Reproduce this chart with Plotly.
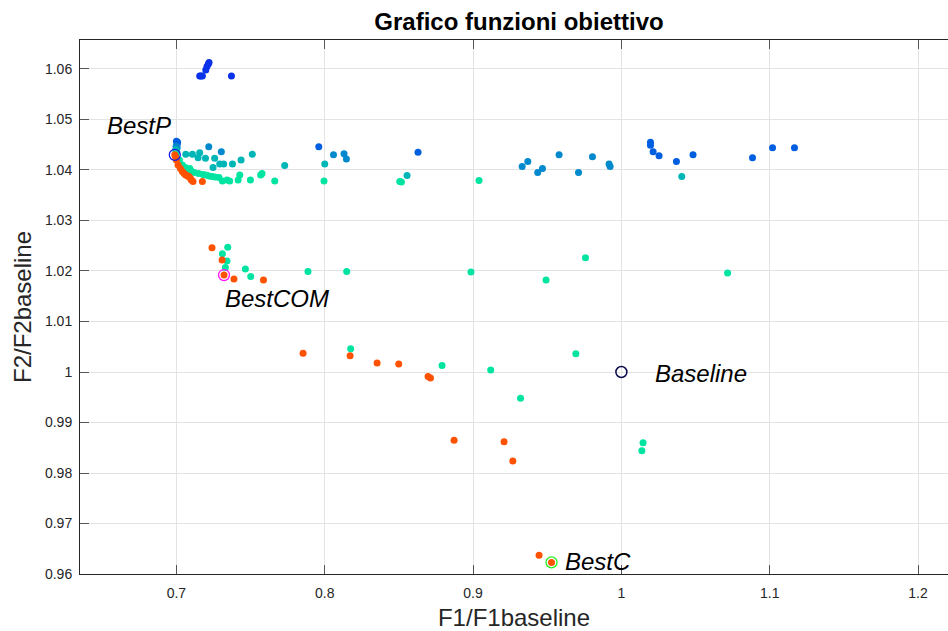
import plotly.graph_objects as go

# Objective values normalised by the baseline design, grouped by generation
gen1_f1 = [0.7220, 0.7215, 0.7206, 0.7198, 0.7157, 0.7165, 0.7175, 0.7371]
gen1_f2 = [1.0613, 1.0610, 1.0605, 1.0598, 1.0586, 1.0586, 1.0586, 1.0586]

gen2_f1 = [0.7000, 0.7008, 0.7005, 0.7960, 0.8629, 1.0196, 1.0196, 1.0214, 1.0254,
           1.0371, 1.0483, 1.0884, 1.1019, 1.1167]
gen2_f2 = [1.0457, 1.0455, 1.0451, 1.0446, 1.0435, 1.0455, 1.0449, 1.0436, 1.0428,
           1.0417, 1.0430, 1.0424, 1.0444, 1.0444]

gen3_f1 = [0.6998, 0.7005, 0.7218, 0.7303, 0.8059, 0.8130, 0.8146, 0.9331, 0.9369,
           0.9436, 0.9468, 0.9580, 0.9711, 0.9805, 0.9917, 0.9924]
gen3_f2 = [1.0447, 1.0444, 1.0446, 1.0436, 1.0430, 1.0432, 1.0422, 1.0407, 1.0417,
           1.0395, 1.0403, 1.0430, 1.0395, 1.0426, 1.0412, 1.0407]

gen4_f1 = [0.6995, 0.7002, 0.7063, 0.7108, 0.7157, 0.7146, 0.7196, 0.7258, 0.7292,
           0.7319, 0.7247, 0.7378, 0.7436, 0.7512, 0.7730, 0.8000, 0.8555, 1.0407]
gen4_f2 = [1.0440, 1.0437, 1.0431, 1.0431, 1.0434, 1.0424, 1.0423, 1.0423, 1.0412,
           1.0412, 1.0405, 1.0412, 1.0420, 1.0431, 1.0409, 1.0412, 1.0389, 1.0387]

gen5_f1 = [0.7000, 0.7020, 0.7040, 0.7060, 0.7080, 0.7090, 0.7100, 0.7120, 0.7150,
           0.7180, 0.7200, 0.7220, 0.7240, 0.7260, 0.7287, 0.7310, 0.7341, 0.7359,
           0.7416, 0.7427, 0.7499, 0.7568, 0.7577, 0.7663, 0.7995, 0.8506, 0.8517,
           0.9040,
           0.7346, 0.7310, 0.7341, 0.7330, 0.7465, 0.7501, 0.7887, 0.8148, 0.8986,
           0.9492, 0.9758, 1.0716,
           0.8175, 0.8791, 0.9119, 0.9693, 0.9320, 1.0146, 1.0138]
gen5_f2 = [1.0433, 1.0420, 1.0410, 1.0405, 1.0400, 1.0403, 1.0398, 1.0395, 1.0393,
           1.0391, 1.0390, 1.0388, 1.0387, 1.0386, 1.0385, 1.0378, 1.0380, 1.0378,
           1.0380, 1.0390, 1.0380, 1.0390, 1.0393, 1.0378, 1.0378, 1.0377, 1.0376,
           1.0379,
           1.0247, 1.0234, 1.0220, 1.0207, 1.0204, 1.0189, 1.0199, 1.0199, 1.0198,
           1.0182, 1.0226, 1.0196,
           1.0046, 1.0013, 1.0004, 1.0036, 0.9948, 0.9860, 0.9844]

gen6_f1 = [0.6989, 0.6995, 0.7000, 0.7011, 0.7027, 0.7040, 0.7052, 0.7063, 0.7075,
           0.7085, 0.7095, 0.7101, 0.7112, 0.7175,
           0.7240, 0.7308, 0.7321, 0.7388, 0.7587,
           0.7854, 0.8171, 0.8353, 0.8499, 0.8697, 0.8713,
           0.8872, 0.9209, 0.9268, 0.9445, 0.9529]
gen6_f2 = [1.0430, 1.0425, 1.0420, 1.0410, 1.0403, 1.0397, 1.0393, 1.0390, 1.0388,
           1.0387, 1.0383, 1.0380, 1.0377, 1.0377,
           1.0246, 1.0222, 1.0192, 1.0184, 1.0182,
           1.0037, 1.0032, 1.0018, 1.0016, 0.9991, 0.9988,
           0.9865, 0.9862, 0.9824, 0.9637, 0.9623]

gen_colors = ["#0a32ea", "#005fe0", "#0089cc", "#00b6b6", "#00e4a2", "#ff5200"]

# Highlighted designs
best_p = (0.6989, 1.0430)
best_com = (0.7321, 1.0192)
baseline = (1.0000, 1.0000)
best_c = (0.9529, 0.9623)

FONT = "Liberation Sans, Arial, Helvetica, sans-serif"

fig = go.Figure()

groups = [(gen1_f1, gen1_f2), (gen2_f1, gen2_f2), (gen3_f1, gen3_f2),
          (gen4_f1, gen4_f2), (gen5_f1, gen5_f2), (gen6_f1, gen6_f2)]
for (gx, gy), col in zip(groups, gen_colors):
    fig.add_trace(go.Scatter(
        x=gx, y=gy, mode="markers",
        marker=dict(size=7, color=col, line=dict(width=0)),
        showlegend=False, hoverinfo="x+y"))

# Rings around the selected solutions
rings = [(best_p, "#1a1ae6"), (best_com, "#ff10ff"), (best_c, "#22ee22")]
for (px, py), col in rings:
    fig.add_trace(go.Scatter(
        x=[px], y=[py], mode="markers",
        marker=dict(size=11, color="rgba(0,0,0,0)", line=dict(width=1.3, color=col)),
        showlegend=False, hoverinfo="x+y"))

fig.add_trace(go.Scatter(
    x=[baseline[0]], y=[baseline[1]], mode="markers",
    marker=dict(size=11, color="rgba(0,0,0,0)", line=dict(width=1.5, color="#0a0a4a")),
    showlegend=False, hoverinfo="x+y"))

label_font = dict(family=FONT, size=24, color="#000000", style="italic")
labels = [
    ("BestP", 0.6517, 1.0489),
    ("BestCOM", 0.7312, 1.01465),
    ("Baseline", 1.0212, 0.9998),
    ("BestC", 0.9605, 0.9624),
]
for txt, lx, ly in labels:
    fig.add_annotation(x=lx, y=ly, text=txt, showarrow=False,
                       xanchor="left", yanchor="middle", font=label_font)

axis_common = dict(
    showgrid=True, gridcolor="#e3e3e3", gridwidth=1,
    zeroline=False, showline=True, linecolor="#262626", linewidth=1,
    ticks="inside", ticklen=9, tickcolor="#555555", tickwidth=1,
    tickfont=dict(family=FONT, size=14, color="#262626"),
)

fig.update_layout(
    width=948, height=631,
    margin=dict(l=80, r=0, t=40, b=57),
    paper_bgcolor="white", plot_bgcolor="white",
    title=dict(text="<b>Grafico funzioni obiettivo</b>",
               font=dict(family=FONT, size=24, color="#000000"),
               x=519 / 948, xref="container", xanchor="center",
               y=1 - 22 / 631, yref="container", yanchor="middle"),
    xaxis=dict(range=[0.635, 1.2202], tickvals=[0.7, 0.8, 0.9, 1.0, 1.1, 1.2],
               ticktext=["0.7", "0.8", "0.9", "1", "1.1", "1.2"],
               mirror="ticks", ticklabelstandoff=6,
               title=dict(text="F1/F1baseline", standoff=10,
                          font=dict(family=FONT, size=24, color="#262626")),
               **axis_common),
    yaxis=dict(range=[0.96, 1.06574],
               tickvals=[0.96, 0.97, 0.98, 0.99, 1.0, 1.01, 1.02, 1.03, 1.04, 1.05, 1.06],
               ticktext=["0.96", "0.97", "0.98", "0.99", "1", "1.01", "1.02", "1.03",
                         "1.04", "1.05", "1.06"],
               ticklabelstandoff=4,
               title=dict(text="F2/F2baseline", standoff=6,
                          font=dict(family=FONT, size=24, color="#262626")),
               **axis_common),
)

fig.write_html("out.html")
